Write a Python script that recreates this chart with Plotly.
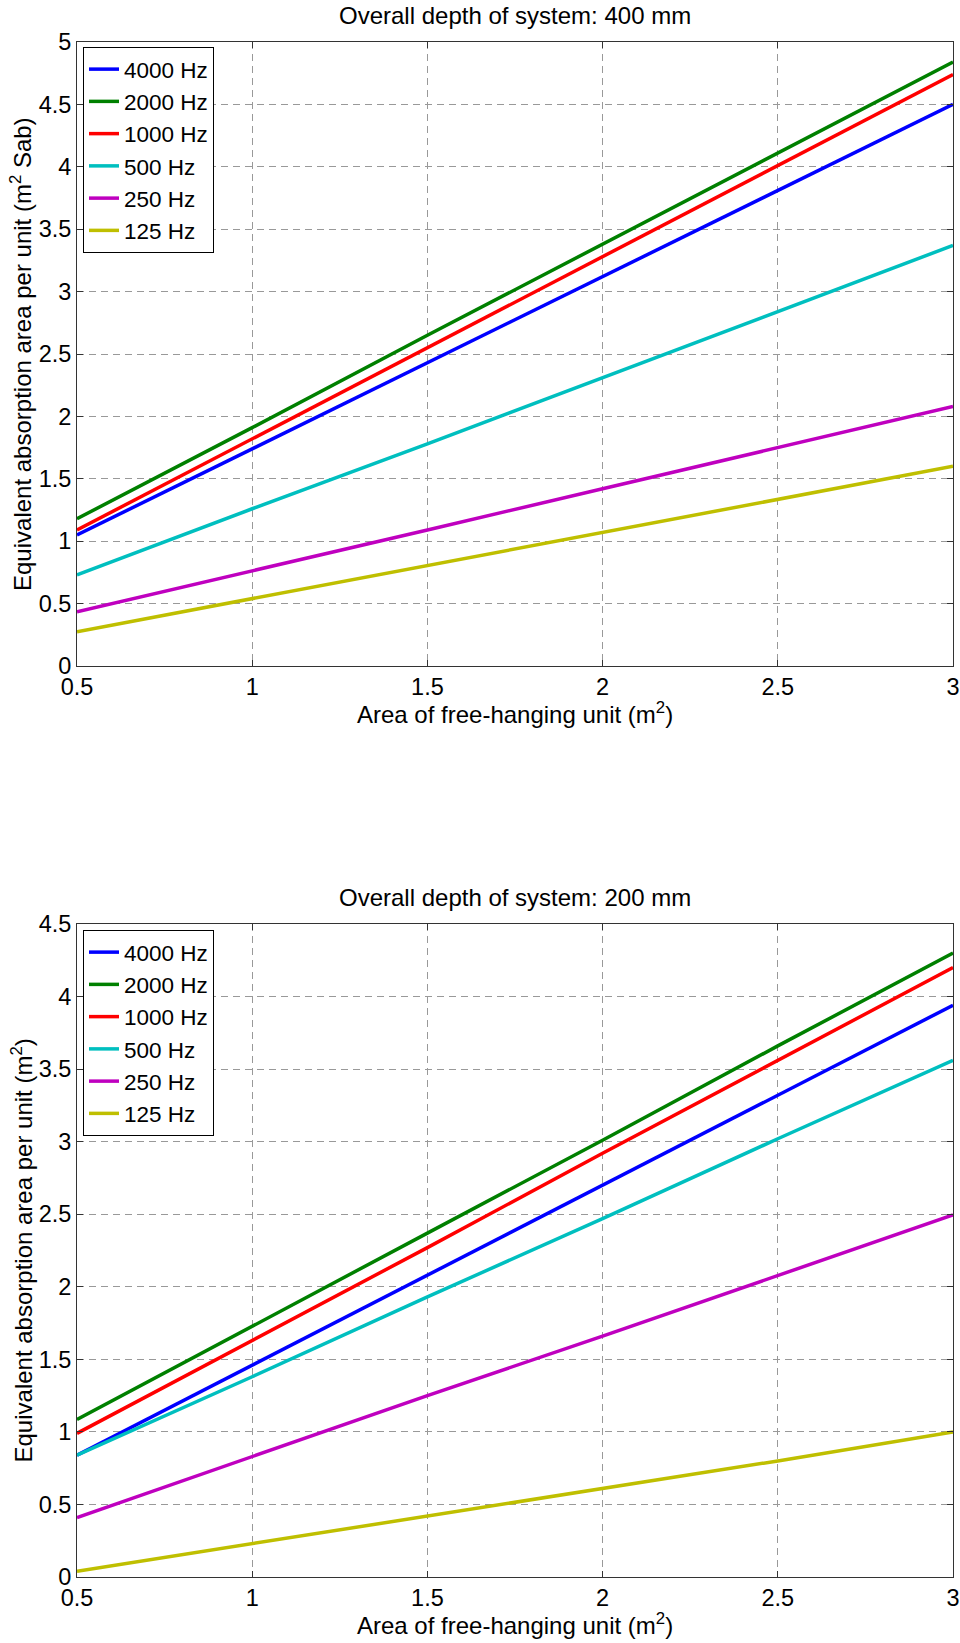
import plotly.graph_objects as go

# ---------------- data ----------------
x_area = [0.5, 1.0, 1.5, 2.0, 2.5, 3.0]
freq_labels = ["4000 Hz", "2000 Hz", "1000 Hz", "500 Hz", "250 Hz", "125 Hz"]
line_colors = ["#0000ff", "#008000", "#ff0000", "#00bfbf", "#bf00bf", "#bfbf00"]

# Overall depth 400 mm
d400_4000 = [1.05, 1.74, 2.43, 3.12, 3.81, 4.50]
d400_2000 = [1.18, 1.91, 2.65, 3.38, 4.11, 4.84]
d400_1000 = [1.09, 1.82, 2.55, 3.28, 4.01, 4.74]
d400_500 = [0.73, 1.26, 1.78, 2.31, 2.84, 3.37]
d400_250 = [0.435, 0.76, 1.09, 1.42, 1.75, 2.08]
d400_125 = [0.275, 0.54, 0.80, 1.07, 1.33, 1.60]

# Overall depth 200 mm
d200_4000 = [0.84, 1.46, 2.08, 2.70, 3.32, 3.94]
d200_2000 = [1.085, 1.73, 2.37, 3.01, 3.66, 4.30]
d200_1000 = [0.99, 1.63, 2.27, 2.92, 3.56, 4.20]
d200_500 = [0.84, 1.38, 1.93, 2.47, 3.02, 3.56]
d200_250 = [0.41, 0.83, 1.25, 1.66, 2.08, 2.495]
d200_125 = [0.04, 0.23, 0.42, 0.61, 0.80, 1.00]

x_ticks = [0.5, 1, 1.5, 2, 2.5, 3]
x_ticklabels = ["0.5", "1", "1.5", "2", "2.5", "3"]
y_ticks_top = [0, 0.5, 1, 1.5, 2, 2.5, 3, 3.5, 4, 4.5, 5]
y_ticks_bot = [0, 0.5, 1, 1.5, 2, 2.5, 3, 3.5, 4, 4.5]

title_top = "Overall depth of system: 400 mm"
title_bot = "Overall depth of system: 200 mm"
xlabel = "Area of free-hanging unit (m<sup>2</sup>)"
ylabel_top = "Equivalent absorption area per unit (m<sup>2</sup> Sab)"
ylabel_bot = "Equivalent absorption area per unit (m<sup>2</sup>)"

# ---------------- layout constants ----------------
W, H = 960, 1643
FONT = "Liberation Sans, Arial, Helvetica, sans-serif"
X0, X1 = 77, 953
TOP_Y0, TOP_Y1 = 42, 666
BOT_Y0, BOT_Y1 = 924, 1577


def py(pix):
    return 1 - pix / H


fig = go.Figure()

top_series = [d400_4000, d400_2000, d400_1000, d400_500, d400_250, d400_125]
bot_series = [d200_4000, d200_2000, d200_1000, d200_500, d200_250, d200_125]

for name, col, ys in zip(freq_labels, line_colors, top_series):
    fig.add_trace(go.Scatter(x=x_area, y=ys, mode="lines", name=name,
                             line=dict(color=col, width=3.5),
                             xaxis="x", yaxis="y", legend="legend"))
for name, col, ys in zip(freq_labels, line_colors, bot_series):
    fig.add_trace(go.Scatter(x=x_area, y=ys, mode="lines", name=name,
                             line=dict(color=col, width=3.5),
                             xaxis="x2", yaxis="y2", legend="legend2"))

axis_common = dict(
    showline=True, linecolor="#333333", linewidth=1, mirror="ticks",
    ticks="inside", ticklen=6, tickcolor="#333333",
    showgrid=True, gridcolor="#999999", gridwidth=1, griddash="7px,5px",
    zeroline=False, automargin=False,
    tickfont=dict(family=FONT, size=23.5, color="black"),
)

legend_common = dict(
    xanchor="left", yanchor="top",
    bordercolor="black", borderwidth=1, bgcolor="white",
    font=dict(family=FONT, size=22.5, color="black"),
    itemwidth=30, tracegroupgap=0,
)

fig.update_layout(
    width=W, height=H,
    margin=dict(l=0, r=0, t=0, b=0, autoexpand=False),
    paper_bgcolor="white", plot_bgcolor="white",
    font=dict(family=FONT, color="black"),
    xaxis=dict(domain=[X0 / W, X1 / W], range=[0.5, 3], tickvals=x_ticks,
               ticktext=x_ticklabels, anchor="y", **axis_common),
    yaxis=dict(domain=[py(TOP_Y1), py(TOP_Y0)], range=[0, 5],
               tickvals=y_ticks_top, anchor="x", **axis_common),
    xaxis2=dict(domain=[X0 / W, X1 / W], range=[0.5, 3], tickvals=x_ticks,
                ticktext=x_ticklabels, anchor="y2", **axis_common),
    yaxis2=dict(domain=[py(BOT_Y1), py(BOT_Y0)], range=[0, 4.5],
                tickvals=y_ticks_bot, anchor="x2", **axis_common),
    legend=dict(x=83 / W, y=py(47), **legend_common),
    legend2=dict(x=83 / W, y=py(930), **legend_common),
    showlegend=True,
)

ann_font = dict(family=FONT, size=24, color="black")
xc = (X0 + X1) / 2 / W
fig.add_annotation(text=title_top, x=xc, y=py(16), xref="paper", yref="paper",
                   showarrow=False, xanchor="center", yanchor="middle", font=ann_font)
fig.add_annotation(text=title_bot, x=xc, y=py(897), xref="paper", yref="paper",
                   showarrow=False, xanchor="center", yanchor="middle", font=ann_font)
fig.add_annotation(text=xlabel, x=xc, y=py(713), xref="paper", yref="paper",
                   showarrow=False, xanchor="center", yanchor="middle", font=ann_font)
fig.add_annotation(text=xlabel, x=xc, y=py(1624), xref="paper", yref="paper",
                   showarrow=False, xanchor="center", yanchor="middle", font=ann_font)
fig.add_annotation(text=ylabel_top, x=21 / W, y=py((TOP_Y0 + TOP_Y1) / 2),
                   xref="paper", yref="paper", showarrow=False, textangle=-90,
                   xanchor="center", yanchor="middle", font=ann_font)
fig.add_annotation(text=ylabel_bot, x=21 / W, y=py((BOT_Y0 + BOT_Y1) / 2),
                   xref="paper", yref="paper", showarrow=False, textangle=-90,
                   xanchor="center", yanchor="middle", font=ann_font)

fig.write_html("out.html")
